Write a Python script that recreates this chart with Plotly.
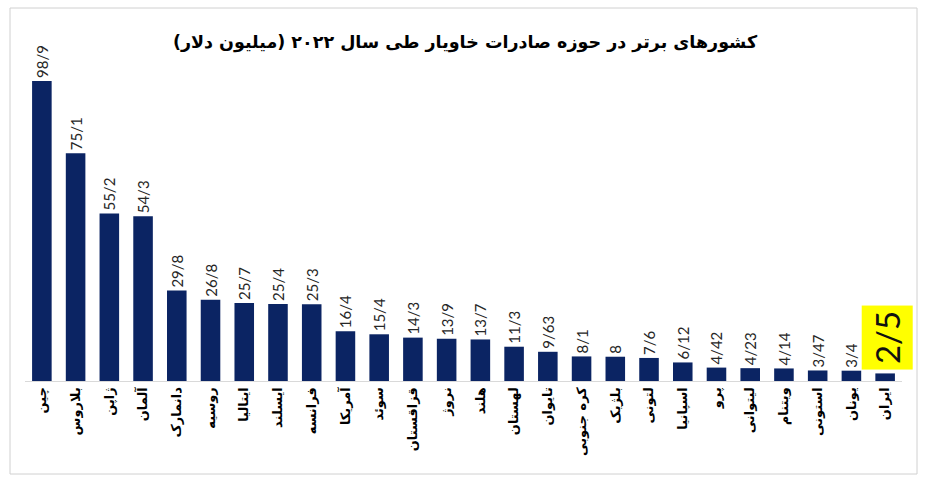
import plotly.graph_objects as go

countries = ["چین", "بلاروس", "ژاپن", "آلمان", "دانمارک", "روسیه", "ایتالیا", "ایسلند",
             "فرانسه", "آمریکا", "سوئد", "قزاقستان", "نروژ", "هلند", "لهستان", "تایوان",
             "کره جنوبی", "بلژیک", "لتونی", "اسپانیا", "پرو", "لیتوانی", "ویتنام", "استونی",
             "یونان", "ایران"]
values = [98.9, 75.1, 55.2, 54.3, 29.8, 26.8, 25.7, 25.4, 25.3, 16.4, 15.4, 14.3, 13.9,
          13.7, 11.3, 9.63, 8.1, 8, 7.6, 6.12, 4.42, 4.23, 4.14, 3.47, 3.4, 2.5]
labels = ["98/9", "75/1", "55/2", "54/3", "29/8", "26/8", "25/7", "25/4", "25/3", "16/4",
          "15/4", "14/3", "13/9", "13/7", "11/3", "9/63", "8/1", "8", "7/6", "6/12", "4/42",
          "4/23", "4/14", "3/47", "3/4", "2/5"]
title = "کشورهای برتر در حوزه صادرات خاویار طی سال ۲۰۲۲ (میلیون دلار)"

bar_text = labels[:-1] + [""]

fig = go.Figure()
fig.add_trace(go.Bar(
    x=countries, y=values, text=bar_text, textposition="outside", textangle=-90,
    textfont=dict(family="Lato", size=15, color="#262626"),
    marker=dict(color="#0b2463", line=dict(width=0)),
    cliponaxis=False, hoverinfo="skip",
))

fig.add_annotation(
    x=countries[-1], y=values[-1], xref="x", yref="y",
    text=labels[-1], showarrow=False, textangle=-90,
    font=dict(family="Lato", size=33, color="#111111"),
    bgcolor="#ffff00", xanchor="center", yanchor="bottom", yshift=3, xshift=2,
    borderpad=5,
)

W, H = 925, 485
ml, mr, mt, mb = 25, 23, 60, 104
pw, ph = W - ml - mr, H - mt - mb

def px(xp):
    return (xp - ml) / pw

def py(yp):
    return (H - mb - yp) / ph

fig.add_shape(type="rect", xref="paper", yref="paper",
              x0=px(10), x1=px(917), y0=py(474), y1=py(8),
              line=dict(color="#d0d0d0", width=1), fillcolor="rgba(0,0,0,0)", layer="below")

fig.update_layout(
    width=W, height=H, autosize=False,
    margin=dict(l=ml, r=mr, t=mt, b=mb, autoexpand=False),
    paper_bgcolor="white", plot_bgcolor="white",
    showlegend=False,
    bargap=0.42,
    uniformtext=dict(minsize=15, mode="show"),
    title=dict(text="<b>" + title + "</b>", x=px(465), xref="paper", xanchor="center",
               y=1 - 42 / H, yanchor="middle",
               font=dict(family="DejaVu Sans", size=17.5, color="#000000")),
    xaxis=dict(tickangle=-90, showline=True, linecolor="#d9d9d9", linewidth=1,
               ticks="", showgrid=False, range=[-0.5, len(countries) - 0.5],
               automargin=False,
               tickfont=dict(family="DejaVu Sans", size=13, color="#000000")),
    yaxis=dict(range=[0, 98.9 * ph / 300], visible=False, showgrid=False),
)
fig.update_xaxes(tickprefix="<b>", ticksuffix="</b>")

fig.write_html("out.html", config={"displayModeBar": False, "responsive": False},
               post_script="document.body.style.margin='0';document.body.style.overflow='hidden';")
